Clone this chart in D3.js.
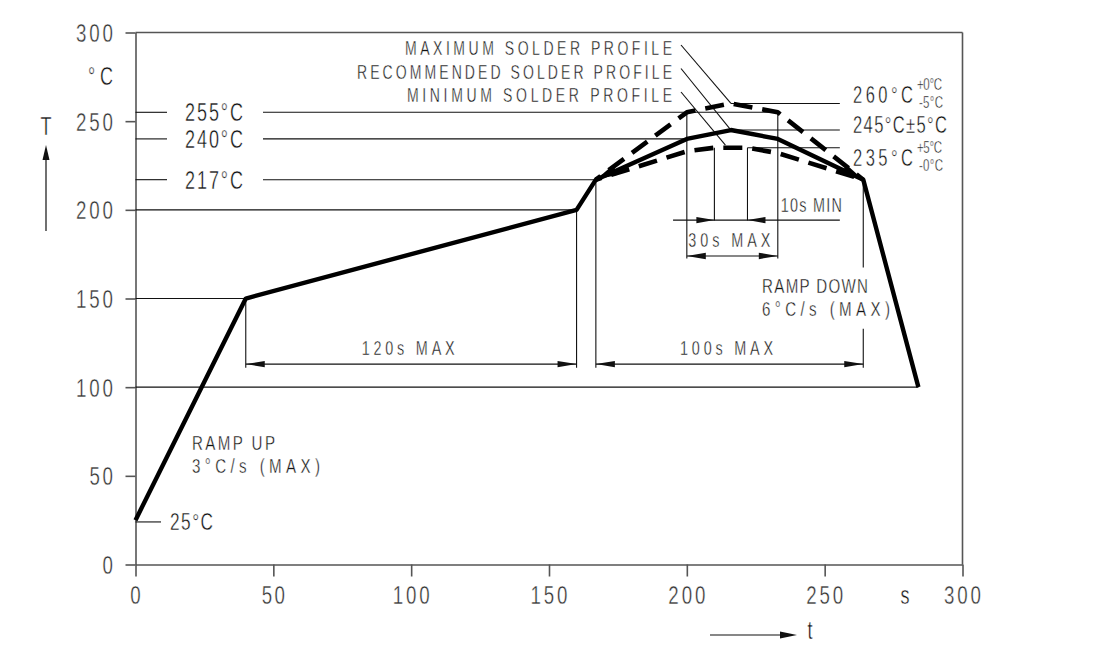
<!DOCTYPE html>
<html lang="en">
<head>
<meta charset="utf-8">
<title>Solder reflow profile</title>
<script src="https://d3js.org/d3.v7.min.js"></script>
<style>
    body { margin: 0; background: #fff; }
    text { font-family: "Liberation Sans", Arial, sans-serif; fill: #111; stroke: #fff; stroke-width: 0.4; }
</style>
</head>
<body>
<script>
    // axis ticks
    const xTicks = [0, 50, 100, 150, 200, 250, 300];
    const yTicks = [0, 50, 100, 150, 200, 250, 300];

    // profiles as [time s, temperature °C]
    const recommended = [[0, 25], [40, 150], [160, 200], [167, 217], [200, 240], [216, 245], [233, 240], [264, 217], [284, 100]];
    const maxProfile = [[167, 217], [200, 255], [216, 260], [233, 255], [264, 217]];
    const minProfile = [[167, 217], [200, 233], [210, 235], [222, 235], [233, 232], [264, 217]];

    // labelled levels on the left
    const leftLevels = [255, 240, 217];
    const leftLevelEnds = [233, 200, 167];
    const leftLabels = ["255°C", "240°C", "217°C"];

    // unlabelled levels
    const plainLevels = [200, 150, 100];
    const plainLevelEnds = [160, 40, 284];

    // labelled levels on the right
    const rightLevels = [260, 245, 235];
    const rightLevelStarts = [216, 216, 222];
    const rightLabels = ["260°C", "245°C±5°C", "235°C"];
    const rightSup = ["+0°C", "", "+5°C"];
    const rightSub = ["-5°C", "", "-0°C"];
    const rightLevelEnd = 255.5;

    // profile names and what their leaders point at
    const profileNames = ["MAXIMUM SOLDER PROFILE", "RECOMMENDED SOLDER PROFILE", "MINIMUM SOLDER PROFILE"];
    const profileTargets = [[216, 260], [216, 245], [214, 236.5]];

    // dimension lines: from, to, level, label
    const dimFrom = [40, 167, 200];
    const dimTo = [160, 264, 233];
    const dimAt = [113, 113, 174];
    const dimLabels = ["120s MAX", "100s MAX", "30s MAX"];

    // extension lines [time, top, bottom]
    const extLines = [[40, 150, 111], [160, 200, 111], [167, 217, 111], [264, 217, 167.5], [264, 133, 111],
                      [200, 255, 172.5], [233, 255, 172.5], [210, 235, 194], [222, 235, 194]];

    // 10s minimum window
    const minWindow = [210, 222];
    const minWindowLine = [195, 255.5];
    const minWindowAt = 194.2;

    const W = 1110, H = 655;
    const SX = 0.72;   // narrow lettering like the drawing font

    const svg = d3.select("body").append("svg")
        .attr("width", W)
        .attr("height", H);

    const x = d3.scaleLinear().domain([0, 300]).range([135.5, 962.5]);
    const y = d3.scaleLinear().domain([0, 300]).range([564.5, 32.5]);

    const line = d3.line().x(d => x(d[0])).y(d => y(d[1]));

    // narrow text, optional overall width
    function label(px, py, str, size, width, anchor) {
        const t = svg.append("text")
            .attr("transform", "translate(" + px + "," + py + ") scale(" + SX + ",1)")
            .attr("font-size", size)
            .attr("text-anchor", anchor || "start")
            .text(str);
        if (width) t.attr("textLength", width / SX).attr("lengthAdjust", "spacing");
        return t;
    }

    // filled arrow head, tip and tail in pixels
    function arrowHead(tip, tail, len, hw) {
        const dx = tip[0] - tail[0], dy = tip[1] - tail[1];
        const d = Math.hypot(dx, dy);
        const ux = dx / d, uy = dy / d;
        const bx = tip[0] - ux * len, by = tip[1] - uy * len;
        return "M" + tip[0] + "," + tip[1] +
               "L" + (bx - uy * hw) + "," + (by + ux * hw) +
               "L" + (bx + uy * hw) + "," + (by - ux * hw) + "Z";
    }

    // axes (labels drawn separately in the narrow lettering)
    const gx = svg.append("g")
        .attr("transform", "translate(0," + y(0) + ")")
        .call(d3.axisBottom(x).tickValues(xTicks).tickSize(12).tickSizeOuter(0).tickFormat(""));
    const gy = svg.append("g")
        .attr("transform", "translate(" + x(0) + ",0)")
        .call(d3.axisLeft(y).tickValues(yTicks).tickSize(10).tickSizeOuter(0).tickFormat(""));
    [gx, gy].forEach(g => g.selectAll("path, line").attr("stroke", "#555").attr("stroke-width", 1.6));

    const tickWidth = s => s.length > 1 ? 13.6 * s.length - 3.8 : null;
    xTicks.forEach(v => {
        const s = String(v);
        label(x(v), 604, s, 26, tickWidth(s), "middle").style("fill", "#333");
    });
    yTicks.forEach(v => {
        const s = String(v);
        label(113, y(v) + 9.5, s, 26, tickWidth(s), "end").style("fill", "#333");
    });

    // frame top and right
    svg.append("line")
        .attr("x1", x(0)).attr("x2", x(300))
        .attr("y1", y(300)).attr("y2", y(300))
        .attr("stroke", "#555").attr("stroke-width", 1.6);
    svg.append("line")
        .attr("x1", x(300)).attr("x2", x(300))
        .attr("y1", y(300)).attr("y2", y(0))
        .attr("stroke", "#555").attr("stroke-width", 1.6);

    const thin = svg.append("g").attr("stroke", "#111").attr("stroke-width", 1.1);

    // left labelled levels, broken around the label
    leftLevels.forEach((v, i) => {
        thin.append("line").attr("x1", x(0)).attr("x2", 167).attr("y1", y(v)).attr("y2", y(v));
        thin.append("line").attr("x1", 263).attr("x2", x(leftLevelEnds[i])).attr("y1", y(v)).attr("y2", y(v));
        label(185, y(v) + 9, leftLabels[i], 25, 58);
    });

    plainLevels.forEach((v, i) => {
        thin.append("line").attr("x1", x(0)).attr("x2", x(plainLevelEnds[i])).attr("y1", y(v)).attr("y2", y(v));
    });

    // 25°C start marker
    thin.append("line").attr("x1", x(0)).attr("x2", 161).attr("y1", y(24)).attr("y2", y(24));
    label(170, 530, "25°C", 24, 43);

    // right labelled levels
    const rightDy = [0, 3, 18];
    const rightW = [60, 94, 60];
    rightLevels.forEach((v, i) => {
        thin.append("line").attr("x1", x(rightLevelStarts[i])).attr("x2", x(rightLevelEnd))
            .attr("y1", y(v)).attr("y2", y(v));
        const by = y(v) + rightDy[i];
        label(853, by, rightLabels[i], 23, rightW[i]);
        if (rightSup[i]) {
            label(917, by - 13, rightSup[i], 16, 25);
            label(919, by + 5, rightSub[i], 16, 24);
        }
    });

    // extension lines
    extLines.forEach(d => {
        thin.append("line").attr("x1", x(d[0])).attr("x2", x(d[0]))
            .attr("y1", y(d[1])).attr("y2", y(d[2]));
    });

    // dimension lines with outward arrows
    const dimW = [93, 93, 82];
    dimFrom.forEach((f, i) => {
        const yy = y(dimAt[i]);
        const a = x(f), b = x(dimTo[i]);
        thin.append("line").attr("x1", a).attr("x2", b).attr("y1", yy).attr("y2", yy);
        svg.append("path").attr("d", arrowHead([a, yy], [b, yy], 19, 3.2)).attr("fill", "#111");
        svg.append("path").attr("d", arrowHead([b, yy], [a, yy], 19, 3.2)).attr("fill", "#111");
        label((a + b) / 2 - 3, yy - 9, dimLabels[i], 20, dimW[i], "middle");
    });

    // 10s window with inward arrows
    {
        const yy = y(minWindowAt);
        thin.append("line").attr("x1", x(minWindowLine[0])).attr("x2", x(minWindowLine[1]))
            .attr("y1", yy).attr("y2", yy);
        svg.append("path").attr("d", arrowHead([x(minWindow[0]), yy], [x(minWindow[0]) - 30, yy], 18, 3.2)).attr("fill", "#111");
        svg.append("path").attr("d", arrowHead([x(minWindow[1]), yy], [x(minWindow[1]) + 30, yy], 18, 3.2)).attr("fill", "#111");
        label(x(233) + 3, yy - 8.5, "10s MIN", 20, 61);
    }

    // profile names and leaders
    const nameW = [267, 315, 265];
    profileNames.forEach((n, i) => {
        const by = 55 + i * 23.5;
        label(672, by, n, 19.5, nameW[i], "end");
        thin.append("line")
            .attr("x1", 681).attr("y1", by - 10)
            .attr("x2", x(profileTargets[i][0])).attr("y2", y(profileTargets[i][1]));
    });

    // ramp texts
    label(192, 450, "RAMP UP", 21, 83);
    label(192, 472.5, "3°C/s (MAX)", 21, 128);
    label(762, 293, "RAMP DOWN", 21, 106);
    label(762, 315.5, "6°C/s (MAX)", 21, 128);

    // profiles
    svg.append("path").datum(recommended)
        .attr("d", line).attr("fill", "none")
        .attr("stroke", "#000").attr("stroke-width", 4.4)
        .attr("stroke-linejoin", "round");
    [maxProfile, minProfile].forEach(p => {
        svg.append("path").datum(p)
            .attr("d", line).attr("fill", "none")
            .attr("stroke", "#000").attr("stroke-width", 4.6)
            .attr("stroke-dasharray", "19,10")
            .attr("stroke-dashoffset", -16)
            .attr("stroke-linejoin", "round");
    });

    // arrow heads where the profiles meet at 217°C
    const avg = pts => [d3.mean(pts, p => x(p[0])), d3.mean(pts, p => y(p[1]))];
    const leftTip = [x(recommended[3][0]), y(recommended[3][1])];
    const rightTip = [x(recommended[7][0]), y(recommended[7][1])];
    svg.append("path")
        .attr("d", arrowHead(leftTip, avg([recommended[4], maxProfile[1], minProfile[1]]), 22, 5.5))
        .attr("fill", "#000");
    svg.append("path")
        .attr("d", arrowHead(rightTip, avg([recommended[6], maxProfile[3], minProfile[4]]), 22, 5.5))
        .attr("fill", "#000");

    // unit and axis name labels
    label(113, 85, "°C", 25, 25, "end");
    label(46, 135, "T", 25, null, "middle");
    svg.append("line").attr("x1", 46).attr("x2", 46).attr("y1", 231).attr("y2", 155)
        .attr("stroke", "#111").attr("stroke-width", 1.2);
    svg.append("path").attr("d", arrowHead([46, 145], [46, 231], 15, 3.5)).attr("fill", "#111");

    label(905, 604, "s", 25, null, "middle");
    label(810, 639, "t", 25, null, "middle");
    svg.append("line").attr("x1", 710).attr("x2", 785).attr("y1", 635).attr("y2", 635)
        .attr("stroke", "#111").attr("stroke-width", 1.2);
    svg.append("path").attr("d", arrowHead([797, 635], [710, 635], 17, 3.5)).attr("fill", "#111");
</script>
</body>
</html>
